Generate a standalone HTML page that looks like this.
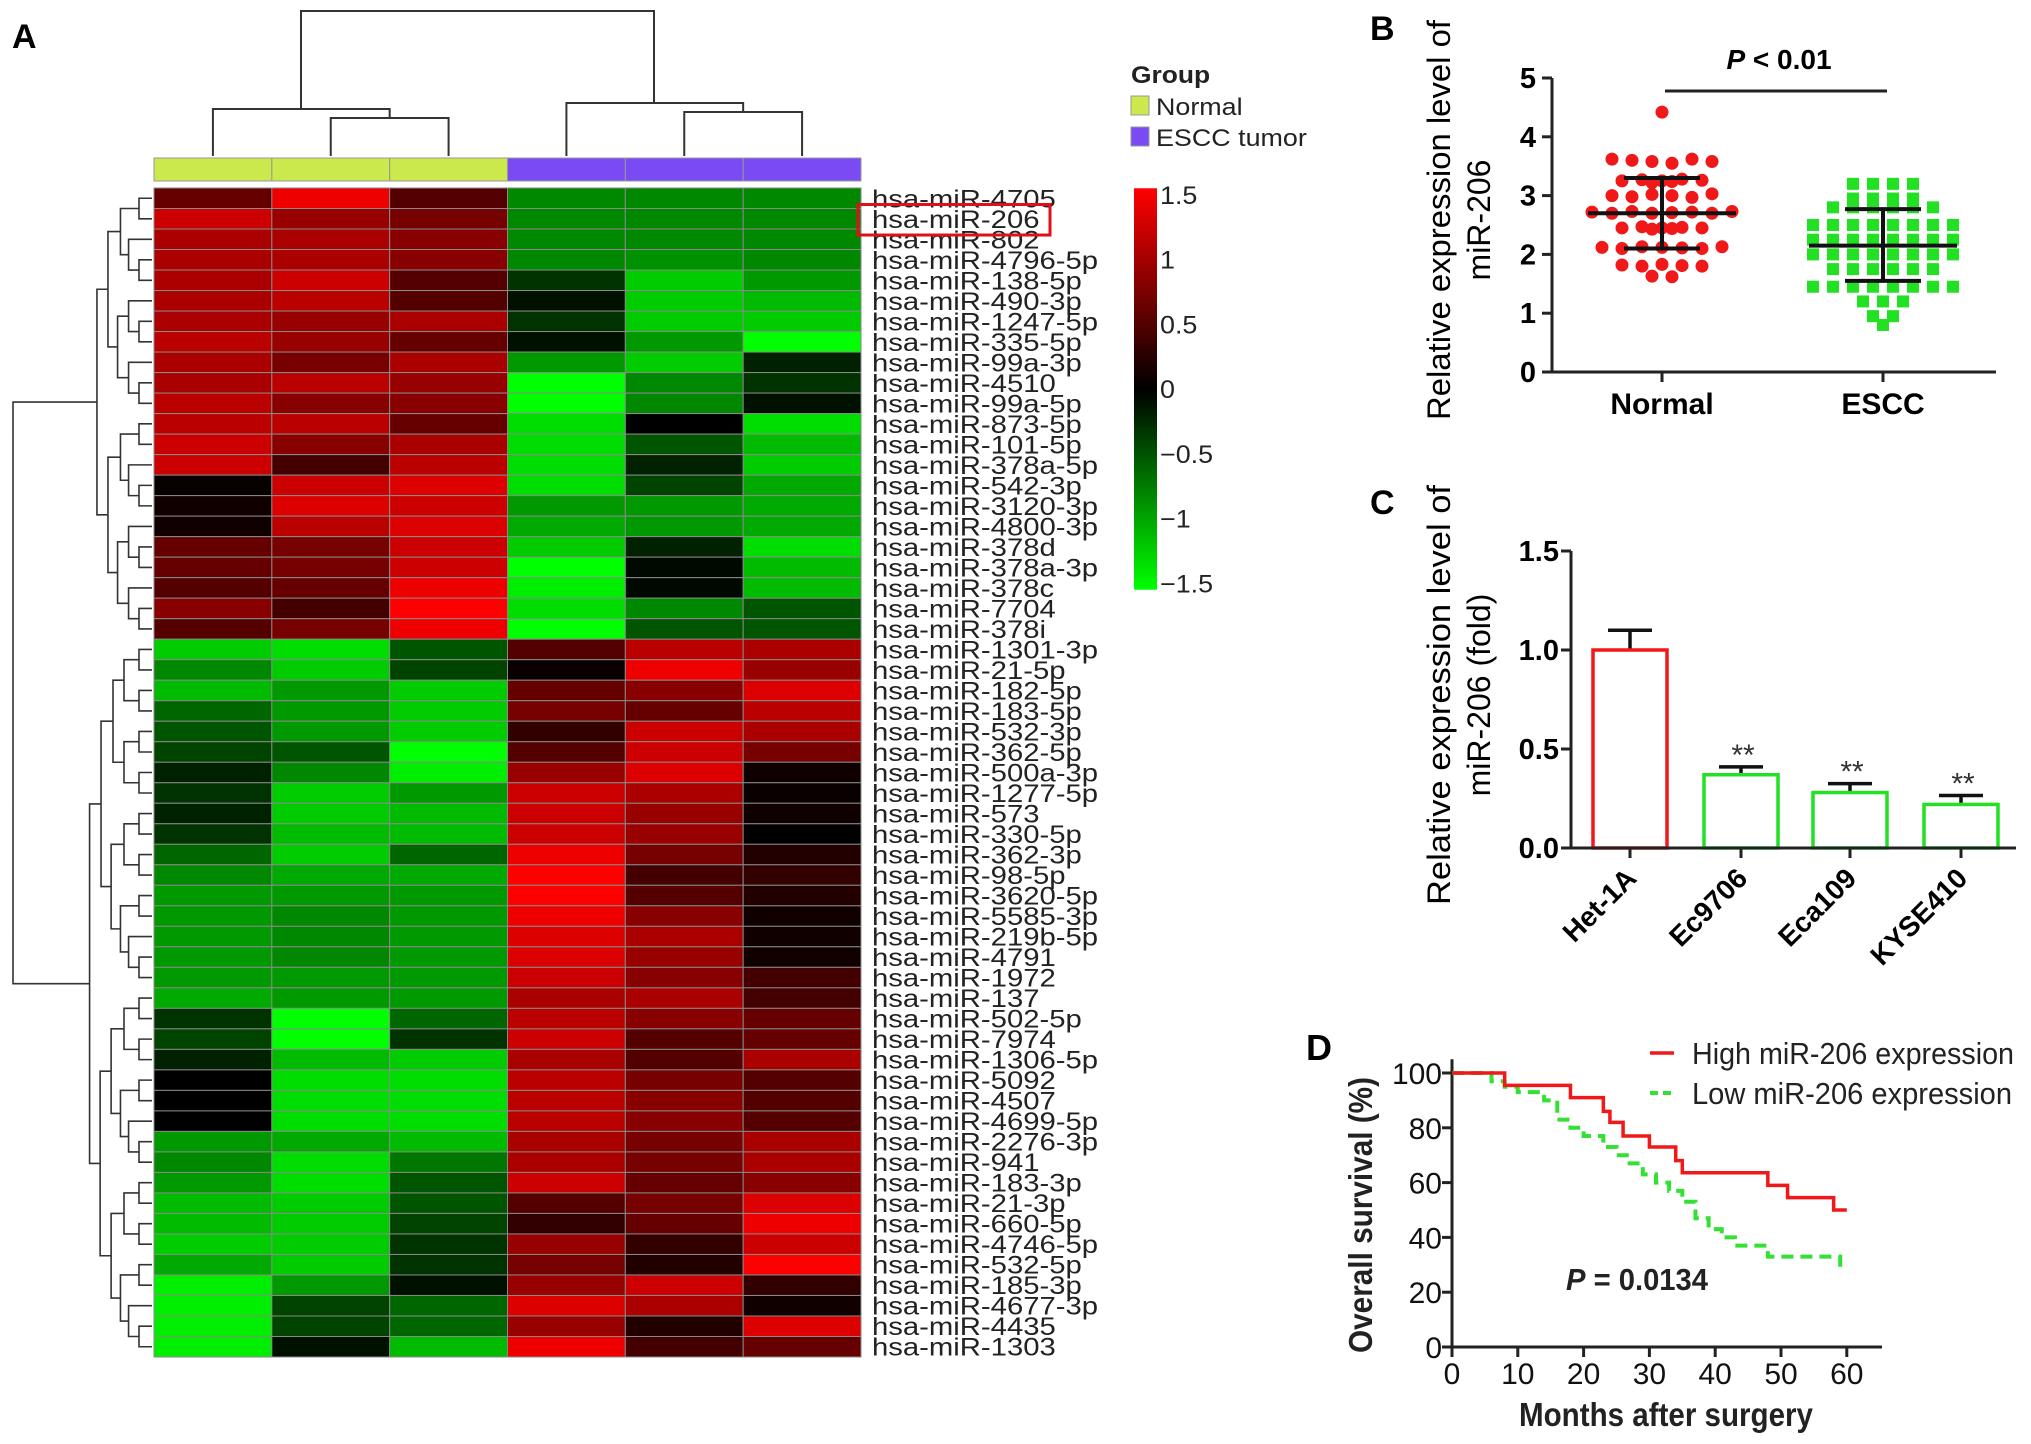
<!DOCTYPE html>
<html><head><meta charset="utf-8"><style>
html,body{margin:0;padding:0;background:#fff;}
svg{display:block;font-family:"Liberation Sans",Arial,sans-serif;}
.b{font-weight:bold;}
</style></head><body>
<svg id="fig" xmlns="http://www.w3.org/2000/svg" width="2031" height="1444" viewBox="0 0 2031 1444">
<g id="panelA"></g>
<g id="panelB"></g>
<g id="panelC"></g>
<g id="panelD"></g>
</svg>
<script>
// ---------- Panel A data ----------
const rowLabels = ["hsa-miR-4705","hsa-miR-206","hsa-miR-802","hsa-miR-4796-5p","hsa-miR-138-5p","hsa-miR-490-3p","hsa-miR-1247-5p","hsa-miR-335-5p","hsa-miR-99a-3p","hsa-miR-4510","hsa-miR-99a-5p","hsa-miR-873-5p","hsa-miR-101-5p","hsa-miR-378a-5p","hsa-miR-542-3p","hsa-miR-3120-3p","hsa-miR-4800-3p","hsa-miR-378d","hsa-miR-378a-3p","hsa-miR-378c","hsa-miR-7704","hsa-miR-378i","hsa-miR-1301-3p","hsa-miR-21-5p","hsa-miR-182-5p","hsa-miR-183-5p","hsa-miR-532-3p","hsa-miR-362-5p","hsa-miR-500a-3p","hsa-miR-1277-5p","hsa-miR-573","hsa-miR-330-5p","hsa-miR-362-3p","hsa-miR-98-5p","hsa-miR-3620-5p","hsa-miR-5585-3p","hsa-miR-219b-5p","hsa-miR-4791","hsa-miR-1972","hsa-miR-137","hsa-miR-502-5p","hsa-miR-7974","hsa-miR-1306-5p","hsa-miR-5092","hsa-miR-4507","hsa-miR-4699-5p","hsa-miR-2276-3p","hsa-miR-941","hsa-miR-183-3p","hsa-miR-21-3p","hsa-miR-660-5p","hsa-miR-4746-5p","hsa-miR-532-5p","hsa-miR-185-3p","hsa-miR-4677-3p","hsa-miR-4435","hsa-miR-1303"];
const sampleGroups = ["Normal","Normal","Normal","ESCC tumor","ESCC tumor","ESCC tumor"];
const heatValues = [
[0.6,1.4,0.5,-0.8,-0.8,-0.8],[1.2,0.9,0.7,-0.8,-0.8,-0.8],[1.0,1.0,0.8,-0.8,-0.8,-0.8],[1.0,1.0,0.8,-0.8,-0.85,-0.8],
[1.0,1.2,0.5,-0.3,-1.2,-0.9],[1.0,1.1,0.5,-0.1,-1.2,-1.1],[1.0,0.9,1.0,-0.3,-1.2,-1.2],[1.1,0.9,0.6,-0.1,-0.9,-1.5],
[1.0,0.7,1.0,-0.9,-1.2,-0.2],[1.0,1.1,0.9,-1.5,-0.8,-0.3],[1.1,0.8,0.8,-1.5,-0.8,-0.1],[1.1,1.1,0.6,-1.3,0.0,-1.3],
[1.2,0.8,1.0,-1.3,-0.5,-1.1],[1.2,0.4,1.1,-1.3,-0.2,-1.2],[0.05,1.2,1.3,-1.3,-0.4,-1.0],[0.1,1.3,1.2,-0.9,-0.9,-1.0],
[0.1,1.1,1.3,-1.0,-0.9,-1.0],[0.6,0.7,1.2,-1.2,-0.2,-1.3],[0.6,0.7,1.2,-1.5,-0.05,-1.1],[0.5,0.6,1.4,-1.4,-0.05,-1.1],
[0.8,0.4,1.5,-1.3,-0.8,-0.5],[0.5,0.7,1.4,-1.5,-0.5,-0.5],[-1.2,-1.3,-0.5,0.5,1.1,1.0],[-0.8,-1.2,-0.4,0.05,1.4,0.9],
[-1.1,-0.9,-1.2,0.6,0.8,1.3],[-0.6,-0.9,-1.2,0.7,0.6,1.1],[-0.5,-0.9,-1.2,0.3,1.2,1.0],[-0.4,-0.5,-1.5,0.5,1.2,0.7],
[-0.2,-0.8,-1.4,0.9,1.3,0.1],[-0.3,-1.2,-0.9,1.2,1.0,0.05],[-0.2,-1.2,-1.1,1.2,0.9,0.1],[-0.3,-1.1,-1.1,1.2,0.9,0.0],
[-0.6,-1.2,-0.6,1.4,0.7,0.2],[-0.8,-1.0,-1.0,1.5,0.4,0.3],[-0.9,-0.9,-0.9,1.5,0.5,0.2],[-0.9,-0.8,-0.9,1.4,0.8,0.1],
[-0.9,-0.8,-0.9,1.3,1.0,0.1],[-0.9,-0.8,-0.9,1.3,0.9,0.1],[-0.9,-0.9,-0.9,1.2,0.8,0.4],[-1.0,-0.9,-0.9,1.0,1.0,0.4],
[-0.3,-1.5,-0.6,1.1,0.8,0.6],[-0.4,-1.5,-0.3,1.2,0.5,0.6],[-0.2,-1.1,-1.2,1.0,0.5,1.0],[0.0,-1.3,-1.3,1.1,0.7,0.5],
[0.0,-1.3,-1.3,1.1,0.8,0.5],[0.0,-1.3,-1.3,1.1,0.8,0.5],[-0.9,-1.0,-1.1,1.0,0.7,1.0],[-0.8,-1.3,-0.7,1.0,0.7,1.0],
[-0.9,-1.3,-0.5,1.2,0.6,0.8],[-1.1,-1.2,-0.5,0.5,0.7,1.3],[-1.1,-1.2,-0.4,0.3,0.6,1.4],[-1.2,-1.2,-0.3,0.9,0.3,1.2],
[-1.0,-1.2,-0.3,0.7,0.2,1.5],[-1.4,-0.9,-0.1,0.9,1.2,0.3],[-1.4,-0.4,-0.6,1.3,1.0,0.1],[-1.4,-0.4,-0.6,0.9,0.2,1.3],
[-1.4,-0.1,-1.1,1.4,0.4,0.6]];
const colorbarTicks = [1.5,1,0.5,0,-0.5,-1,-1.5];
// ---------- Panel B data ----------
const groupsB = ["Normal","ESCC"];
const normalValues = [4.42,3.62,3.6,3.58,3.55,3.62,3.58,3.25,3.27,3.22,3.25,3.28,3.24,3.26,3.0,2.98,3.02,3.0,2.97,3.03,2.72,2.7,2.73,2.7,2.71,2.72,2.7,2.73,2.45,2.43,2.47,2.45,2.44,2.46,2.45,2.12,2.1,2.13,2.12,2.11,2.1,2.13,1.82,1.8,1.83,1.81,1.8,1.63,1.62];
const esccValues = [3.2,3.2,3.2,3.2,2.95,2.95,2.95,2.95,2.8,2.8,2.8,2.8,2.8,2.8,2.5,2.5,2.5,2.5,2.5,2.5,2.5,2.5,2.25,2.25,2.25,2.25,2.25,2.25,2.25,2.25,2.0,2.0,2.0,2.0,2.0,2.0,2.0,2.0,1.75,1.75,1.75,1.75,1.75,1.75,1.45,1.45,1.45,1.45,1.45,1.45,1.45,1.45,1.2,1.2,1.2,0.95,0.95,0.8];
const meanB = [2.7,2.15];
const sdLowB = [2.1,1.55];
const sdHighB = [3.3,2.77];
const ticksB = [0,1,2,3,4,5];
// ---------- Panel C data ----------
const cellLines = ["Het-1A","Ec9706","Eca109","KYSE410"];
const foldValues = [1.0,0.37,0.28,0.22];
const foldErrors = [0.1,0.04,0.045,0.045];
const sigMarks = ["","**","**","**"];
const ticksC = ["0.0","0.5","1.0","1.5"];
// ---------- Panel D data ----------
const highTimes = [0,8,18,23,24,26,30,34,35,48,51,58,60];
const highSurv  = [100,95.5,91,86,82,77,73,68,63.6,59,54.5,50,50];
const lowTimes = [0,6,8,10,14,16,18,20,23,25,27,29,31,33,35,37,39,41,43,48,51,59,60];
const lowSurv  = [100,97,95,93,90,83,80,77,73,70,67,63,60,57,53,47,43,40,37,33,33,30,30];
const ticksDx = [0,10,20,30,40,50,60];
const ticksDy = [0,20,40,60,80,100];

const NS="http://www.w3.org/2000/svg";
function mk(parent,tag,attrs,text){const e=document.createElementNS(NS,tag);for(const k in attrs){if(k==='tl'){e.setAttribute('textLength',attrs[k]);e.setAttribute('lengthAdjust','spacingAndGlyphs');}else e.setAttribute(k,attrs[k]);}if(text!==undefined)e.textContent=text;parent.appendChild(e);return e;}

// ================= Panel A =================
(function(){
const g=document.getElementById('panelA');
const hx0=154,hx1=861,hy0=188,hy1=1357;
const cw=(hx1-hx0)/6, rh=(hy1-hy0)/rowLabels.length;
const xCol=i=>hx0+cw*i, yRow=i=>hy0+rh*i;
function col(v){const t=Math.max(-1,Math.min(1,v/1.5));return t>=0?`rgb(${Math.round(t*255)},0,0)`:`rgb(0,${Math.round(-t*255)},0)`;}
let t=mk(g,'text',{x:12,y:48,'font-size':34,'class':'b'},'A');


sampleGroups.forEach((s,i)=>{
  const r=mk(g,'rect',{x:xCol(i),y:158,width:cw,height:23,fill:s==='Normal'?'#cbe84c':'#7a4af2',stroke:'#999','stroke-width':1});
  
  
});
heatValues.forEach((row,ri)=>row.forEach((v,ci)=>{
  const r=mk(g,'rect',{x:xCol(ci),y:yRow(ri),width:cw,height:rh,fill:col(v),stroke:'#8a8a8a','stroke-width':1});
  
  
}));
rowLabels.forEach((l,i)=>{
  const tt=mk(g,'text',{transform:`translate(872,${yRow(i)+rh/2+9}) scale(1.22,1.05)`,'font-size':24,fill:'#222'},l);
  
  
});
let hb=mk(g,'rect',{x:858,y:yRow(1)-4,width:192,height:rh+10,fill:'none',stroke:'#e0101a','stroke-width':3});


const cx=i=>xCol(i)+cw/2;
const dp=`M${cx(0)},156V109H${(cx(1)+cx(2))/2}V118 M${cx(1)},156V118H${cx(2)}V156 M301,109V11H654V103 M${cx(3)},156V103H${(cx(4)+cx(5))/2}V112 M${cx(4)},156V112H${cx(5)}V156`;
let cd=mk(g,'path',{d:dp,fill:'none',stroke:'#333','stroke-width':2});


let d='';
function build(lo,hi){
  if(hi-lo===1){return {y:yRow(lo)+rh/2,x:hx0-2};}
  const mid=Math.floor((lo+hi)/2);
  const a=build(lo,mid),b=build(mid,hi);
  const x=hx0-4-11*Math.log2(hi-lo)-(hi-lo>2?4:0);
  d+=`M${a.x},${a.y}H${x}V${b.y}H${b.x}`;
  return {y:(a.y+b.y)/2,x:x};
}
const topC=build(0,22),botC=build(22,57);
d+=`M${topC.x},${topC.y}H13V${botC.y}H${botC.x}`;
let rd=mk(g,'path',{d:d,fill:'none',stroke:'#333','stroke-width':1.6});


let lg=mk(g,'g',{});


mk(lg,'text',{transform:'translate(1131,83) scale(1.1,1)','font-size':24,'class':'b',fill:'#222'},'Group');
mk(lg,'rect',{x:1131,y:96,width:18,height:19,fill:'#cbe84c',stroke:'#999'});
mk(lg,'text',{transform:'translate(1156,115) scale(1.12,1)','font-size':24,fill:'#222'},'Normal');
mk(lg,'rect',{x:1131,y:127,width:18,height:19,fill:'#7a4af2',stroke:'#999'});
mk(lg,'text',{transform:'translate(1156,146) scale(1.12,1)','font-size':24,fill:'#222'},'ESCC tumor');
const defs=mk(g,'defs',{});
const lgd=mk(defs,'linearGradient',{id:'cb',x1:0,y1:0,x2:0,y2:1});
mk(lgd,'stop',{offset:'0','stop-color':'#ff0000'});
mk(lgd,'stop',{offset:'0.5','stop-color':'#000000'});
mk(lgd,'stop',{offset:'1','stop-color':'#00ff00'});
const cby=v=>389-v*129.5;
let cb=mk(g,'rect',{x:1134,y:cby(1.55),width:23,height:cby(-1.55)-cby(1.55),fill:'url(#cb)'});


colorbarTicks.forEach(v=>{
  const tt=mk(g,'text',{transform:`translate(1160,${cby(v)+9}) scale(1.12,1.05)`,'font-size':24,fill:'#222'},v<0?'\u2212'+Math.abs(v):String(v));
  
  
});
})();

// ================= Panel B =================
(function(){
const g=document.getElementById('panelB');
const x0=1552,x1=1996,yB=372,unit=58.8;
const y=v=>yB-v*unit;
const xc=[1662,1883];
let t=mk(g,'text',{x:1370,y:40,'font-size':34,'class':'b'},'B');


let ax=mk(g,'path',{d:`M${x0},${y(5)}V${yB}H${x1}`,fill:'none',stroke:'#222','stroke-width':3});


ticksB.forEach(v=>{
  mk(g,'line',{x1:x0-10,x2:x0,y1:y(v),y2:y(v),stroke:'#222','stroke-width':3});
  const tt=mk(g,'text',{x:x0-16,y:y(v)+10,'font-size':29,'class':'b','text-anchor':'end'},v);
  
  
});
groupsB.forEach((s,i)=>{
  mk(g,'line',{x1:xc[i],x2:xc[i],y1:yB,y2:yB+10,stroke:'#222','stroke-width':3});
  const tt=mk(g,'text',{x:xc[i],y:414,'font-size':30,'class':'b','text-anchor':'middle'},s);
  
  
});
let yl=mk(g,'text',{transform:'translate(1450,220) rotate(-90)','font-size':32,'text-anchor':'middle',tl:400},'Relative expression level of');


mk(g,'text',{transform:'translate(1490,220) rotate(-90)','font-size':32,'text-anchor':'middle'},'miR-206');
function swarm(vals,cx,draw){
  const bins={};
  vals.forEach(v=>{const k=Math.round(v*10);(bins[k]=bins[k]||[]).push(v);});
  Object.keys(bins).forEach(k=>{
    const arr=bins[k];
    arr.forEach((v,j)=>{
      const off=(j-(arr.length-1)/2)*20;
      draw(cx+off,y(v));
    });
  });
}
swarm(normalValues,xc[0],(px,py)=>{
  const c=mk(g,'circle',{cx:px,cy:py,r:6.5,fill:'#f01818'});
  
  
});
swarm(esccValues,xc[1],(px,py)=>{
  const c=mk(g,'rect',{x:px-6,y:py-6,width:12,height:12,fill:'#22e022'});
  
  
});
meanB.forEach((m,i)=>{
  const e=mk(g,'path',{d:`M${xc[i]-74},${y(m)}H${xc[i]+74} M${xc[i]-38},${y(sdLowB[i])}H${xc[i]+38} M${xc[i]-38},${y(sdHighB[i])}H${xc[i]+38} M${xc[i]},${y(sdLowB[i])}V${y(sdHighB[i])}`,stroke:'#111','stroke-width':4,fill:'none'});
  
  
});
let sl=mk(g,'line',{x1:1665,x2:1887,y1:91,y2:91,stroke:'#222','stroke-width':3});


let pt=mk(g,'text',{x:1779,y:69,'font-size':28,'class':'b','text-anchor':'middle'});


mk(pt,'tspan',{'font-style':'italic'},'P');
mk(pt,'tspan',{},' < 0.01');
})();

// ================= Panel C =================
(function(){
const g=document.getElementById('panelC');
const x0=1571,x1=2016,yB=848,unit=198;
const y=v=>yB-v*unit;
const xc=[1630,1741,1850,1961],bw=74;
let t=mk(g,'text',{x:1370,y:514,'font-size':34,'class':'b'},'C');


foldValues.forEach((v,i)=>{
  const col=i===0?'#f01818':'#22e022';
  const e=mk(g,'path',{d:`M${xc[i]},${y(v)}V${y(v+foldErrors[i])} M${xc[i]-22},${y(v+foldErrors[i])}H${xc[i]+22}`,stroke:'#111','stroke-width':3.5,fill:'none'});
  
  
  const r=mk(g,'rect',{x:xc[i]-bw/2,y:y(v),width:bw,height:yB-y(v),fill:'#fff',stroke:col,'stroke-width':3.5});
  
  
  if(sigMarks[i]){
    const s=mk(g,'text',{x:xc[i]+2,y:y(v+foldErrors[i])-2,'font-size':30,'text-anchor':'middle',fill:'#333'},sigMarks[i]);
    
    
  }
  mk(g,'line',{x1:xc[i],x2:xc[i],y1:yB,y2:yB+10,stroke:'#222','stroke-width':3});
  const tl=mk(g,'text',{transform:`translate(${xc[i]+8},${yB+32}) rotate(-45)`,'font-size':28,'class':'b','text-anchor':'end'},cellLines[i]);
  
  
});
let ax=mk(g,'path',{d:`M${x0},${y(1.5)}V${yB}H${x1}`,fill:'none',stroke:'#222','stroke-width':3});


ticksC.forEach(s=>{
  const v=parseFloat(s);
  mk(g,'line',{x1:x0-10,x2:x0,y1:y(v),y2:y(v),stroke:'#222','stroke-width':3});
  const tt=mk(g,'text',{x:x0-12,y:y(v)+10,'font-size':29,'class':'b','text-anchor':'end'},s);
  
  
});
let yl=mk(g,'text',{transform:'translate(1450,695) rotate(-90)','font-size':32,'text-anchor':'middle',tl:420},'Relative expression level of');


mk(g,'text',{transform:'translate(1490,695) rotate(-90)','font-size':32,'text-anchor':'middle'},'miR-206 (fold)');
})();

// ================= Panel D =================
(function(){
const g=document.getElementById('panelD');
const x0=1452,yB=1347;
const x=v=>x0+v*6.58, y=v=>yB-v*2.74;
let t=mk(g,'text',{x:1306,y:1060,'font-size':36,'class':'b'},'D');


let ax=mk(g,'path',{d:`M${x0},${y(105)}V${yB}H1882`,fill:'none',stroke:'#222','stroke-width':3});


ticksDx.forEach(v=>{
  mk(g,'line',{x1:x(v),x2:x(v),y1:yB,y2:yB+10,stroke:'#222','stroke-width':3});
  const tt=mk(g,'text',{x:x(v),y:1384,'font-size':30,'text-anchor':'middle',fill:'#111'},v);
  
  
});
ticksDy.forEach(v=>{
  mk(g,'line',{x1:x0-10,x2:x0,y1:y(v),y2:y(v),stroke:'#222','stroke-width':3});
  const tt=mk(g,'text',{x:x0-10,y:y(v)+11,'font-size':30,'text-anchor':'end',fill:'#111'},v);
  
  
});
let xt=mk(g,'text',{x:1519,y:1426,'font-size':33,'class':'b',fill:'#222',tl:294},'Months after surgery');


let yt=mk(g,'text',{transform:'translate(1372,1353) rotate(-90)','font-size':33,'class':'b',fill:'#222',tl:276},'Overall survival (%)');


function step(ts,ss){let d=`M${x(ts[0])},${y(ss[0])}`;for(let i=1;i<ts.length;i++){d+=`H${x(ts[i])}V${y(ss[i])}`;}return d;}
let lo=mk(g,'path',{d:step(lowTimes,lowSurv),fill:'none',stroke:'#33e033','stroke-width':4,'stroke-dasharray':'12,7'});


let hi=mk(g,'path',{d:step(highTimes,highSurv),fill:'none',stroke:'#f01818','stroke-width':3.5});


let le=mk(g,'g',{});


mk(le,'line',{x1:1650,x2:1674,y1:1053,y2:1053,stroke:'#f01818','stroke-width':3.5});
mk(le,'text',{x:1692,y:1064,'font-size':31,fill:'#222',tl:322},'High miR-206 expression');
mk(le,'line',{x1:1650,x2:1674,y1:1093,y2:1093,stroke:'#33e033','stroke-width':4,'stroke-dasharray':'8,5'});
mk(le,'text',{x:1692,y:1104,'font-size':31,fill:'#222',tl:320},'Low miR-206 expression');
let pt=mk(g,'text',{x:1566,y:1290,'font-size':31,'class':'b',fill:'#222',tl:142});


mk(pt,'tspan',{'font-style':'italic'},'P');
mk(pt,'tspan',{},' = 0.0134');
})();
</script>
</body></html>
